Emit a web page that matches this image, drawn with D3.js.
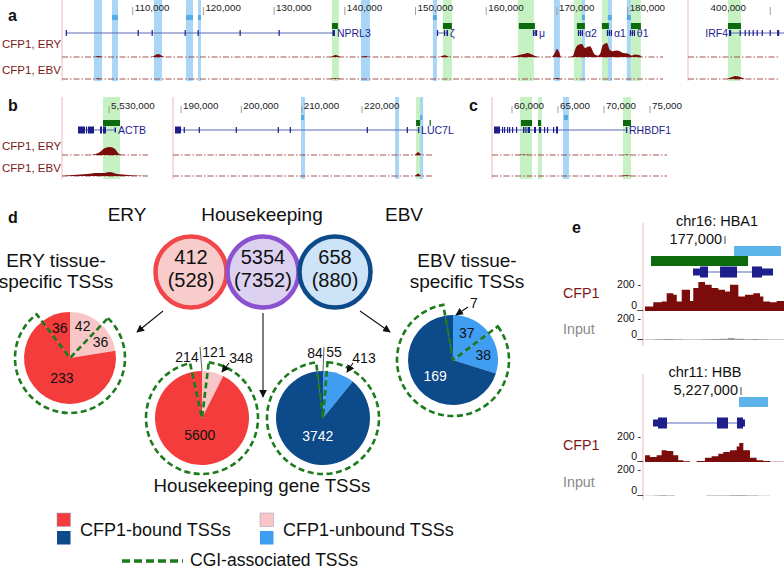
<!DOCTYPE html>
<html><head><meta charset="utf-8">
<script src="https://cdn.jsdelivr.net/npm/d3@7"></script>
<style>
body{margin:0;background:#fff;}
svg{display:block;font-family:"Liberation Sans",Arial,Helvetica,sans-serif;}
</style></head><body>
<svg id="c" width="784" height="569"></svg>
<script>
// ================= DATA =================
const trackLabels = ["CFP1, ERY", "CFP1, EBV"];

// ---- panel a ----
const aMainDomain = [100000, 185000];
const aIrf4Domain = [388000, 402000];
const aMainTicks = [110000,120000,130000,140000,150000,160000,170000,180000];
const aIrf4Ticks = [400000];
const aMainGreen = [[138178,139168],[153873,155146],[164478,166741],[172397,173952],[176356,177770],[180457,181871]];
const aMainBlue = [[104525,105656],[107070,107918],[113009,114140],[117534,118524],[119230,119655],[142279,143551],[152459,153025],[169569,170417],[173528,173952],[177204,177770],[179891,180457]];
const aMainBlueMarks = [[107070,107918],[117534,118524],[119230,119655],[152459,153025],[173528,173952],[177204,177770],[179891,180457]];
const aMainCGI = [[138178,139025],[153873,155146],[164620,166882],[172821,173952],[176356,177345],[180457,181871]];
const aMainGenes = [
  {name:"NPRL3", start:100566, end:138600, exons:[[100520,100640],[110690,110800],[112670,112780],[117340,117450],[119170,119280],[125110,125220],[130630,130740],[138250,138600]]},
  {name:"ζ", start:153025, end:154600, exons:[[153025,153140],[154020,154170],[154380,154600]]},
  {name:"μ", start:166600, end:167165, exons:[[166600,166740],[166840,166960],[167040,167165]]},
  {name:"α2", start:172962, end:173669, exons:[[172962,173110],[173240,173390],[173520,173669]]},
  {name:"α1", start:177063, end:177770, exons:[[177063,177210],[177340,177490],[177620,177770]]},
  {name:"θ1", start:180315, end:181022, exons:[[180315,180460],[180590,180740],[180870,181022]]}
];
const aIrf4Green = [[393833,395729]];
const aIrf4CGI = [[393833,395729]];
const aIrf4Genes = [{name:"IRF4", start:394124, end:402000, left:true,
  exons:[[393980,394300],[395530,395640],[396260,396360],[396840,396940],[397420,397530],[398010,398110],[398740,398840],[399900,400010],[401000,401300]]}];
const aMainEry = [[100000,0],[104400,0],[105100,6],[105800,0],[112600,0],[113600,18],[114500,0],
  [137900,0],[138700,12],[139500,0],[142200,0],[142900,6],[143600,0],[153300,0],[154100,10],[154900,0],
  [163300,0],[164300,8],[165300,18],[165900,24],[166500,14],[167300,0],[169200,0],[169700,24],[170000,47],[170300,30],[170600,0],
  [171800,0],[172255,6],[172538,40],[172962,70],[173528,76],[173952,53],[174376,60],[174659,63],[175366,14],[175790,8],[176073,16],
  [176497,71],[177063,83],[177487,41],[177911,34],[178477,38],[178901,34],[179325,24],[180032,20],[180598,8],[181022,14],[181729,10],[182012,0],[185000,0]];
const aMainEbv = [[100000,0],[104500,0],[105100,5],[105700,0],[137800,0],[138600,4],[139500,0],[169400,0],[170000,6],[170600,0],[185000,0]];
const aIrf4Ery = [[388000,0],[402000,0]];
const aIrf4Ebv = [[388000,0],[393600,0],[394300,10],[394900,18],[395600,12],[396400,0],[402000,0]];

// ---- panel b / c ----
const bActbDomain = [5525700, 5533550];
const bActbTicks = [5530000];
const bActbGreen = [[5529443,5530995]];
const bActbCGI = [[5529443,5530995]];
const bActbGenes = [{name:"ACTB", start:5527161, end:5530630,
  exons:[[5527161,5527800,7],[5527891,5527982,7],[5528074,5528622,7],[5529169,5529352,7],[5529443,5529717,7],[5530500,5530630,5]]}];
const bActbEry = [[5525700,0],[5528256,0],[5528713,5],[5529169,18],[5529626,41],[5530082,47],[5530539,35],[5530813,12],[5531269,0],[5533550,0]];
const bActbEbv = [[5525700,0],[5526100,3],[5526704,6],[5527983,12],[5528896,18],[5529443,17],[5530082,24],[5530539,15],[5531269,9],[5532182,3],[5533460,0]];

const bLucDomain = [188670, 231930];
const bLucTicks = [190000,200000,210000,220000];
const bLucGreen = [[228959,230120]];
const bLucBlue = [[209892,210556],[225478,226141],[229623,230120]];
const bLucBlueMarks = [[209892,210400],[229623,230000]];
const bLucCGI = [[228959,229623],[231200,231330]];
const bLucGenes = [{name:"LUC7L", start:189002, end:229457,
  exons:[[189002,189996,7],[190440,190560],[192930,193050],[199060,199180],[206020,206140],[208010,208130],[220780,220900],[227410,227530],[229300,229457]]}];
const bLucEry = [[188670,0],[228700,0],[229100,12],[229300,18],[229550,10],[229900,0],[231930,0]];
const bLucEbv = [[188670,0],[228700,0],[229100,10],[229300,14],[229550,8],[229900,0],[231930,0]];

const cRhbDomain = [57826, 76848];
const cRhbTicks = [60000,65000,70000,75000];
const cRhbGreen = [[60870,62174],[62826,63261],[72066,72935]];
const cRhbBlue = [[65544,66196]];
const cRhbBlueMarks = [[65650,66090]];
const cRhbCGI = [[60978,62174],[62826,63152],[72066,72935]];
const cRhbGenes = [{name:"RHBDF1", start:58043, end:72500,
  exons:[[58043,58696,7],[58913,58990],[59130,59210],[59457,59530],[59674,59750],[60000,60080],[60435,60510],
  [61196,61350],[61450,61580],[61700,61957],[62391,62609],[62935,63152],[63478,63560],[63804,63880],[64457,64540],[64783,65000,7],[72400,72500]]}];
const cRhbEry = [[57826,0],[60500,0],[61200,3],[61900,0],[72100,0],[72500,3],[72900,0],[76848,0]];
const cRhbEbv = [[57826,0],[71800,0],[72400,4],[73000,0],[76848,0]];

// ---- panel d ----
const dGroupTitles = ["ERY", "Housekeeping", "EBV"];
const dCircleCounts = ["412", "5354", "658"];
const dCircleTotals = ["(528)", "(7352)", "(880)"];
const dPieTitles = [["ERY tissue-", "specific TSSs"], ["EBV tissue-", "specific TSSs"]];
const dBottomTitle = "Housekeeping gene TSSs";
// slice order (clockwise from 12 o'clock): unbound non-CGI, unbound CGI, bound CGI, bound non-CGI
const sliceBound = [false, false, true, true];
const sliceCGI = [false, true, true, false];
const eryTissueVals = [42, 36, 233, 36];
const hkEryVals = [121, 348, 5600, 214];
const hkEbvVals = [55, 413, 3742, 84];
const ebvTissueVals = [37, 38, 169, 7];
const legendLabels = ["CFP1-bound TSSs", "CFP1-unbound TSSs", "CGI-associated TSSs"];

// ---- panel e ----
const eHbaTitle = "chr16: HBA1";
const eHbaDomain = [176148, 177628];
const eHbaTicks = [177000];
const eHbaBlue = [[177096,177596]];
const eHbaCGI = [[176212,177245]];
const eHbaGene = {start:176659, end:177511, exons:[[176659,176734,"utr"],[176734,176819,"cds"],[176947,177128,"cds"],[177287,177394,"cds"],[177394,177511,"utr"]]};
const eHbaCfp1 = [[176148,33],[176236,65],[176326,70],[176379,132],[176450,120],[176486,70],[176539,158],[176609,158],[176627,75],
  [176662,170],[176716,215],[176787,195],[176858,170],[176929,158],[177000,145],[177053,195],[177106,195],[177142,108],[177213,120],
  [177301,132],[177373,108],[177408,70],[177479,65],[177550,75],[177628,58]];
const eHbaInput = [[176148,4],[176250,6],[176350,9],[176450,7],[176550,5],[176650,4],[176750,7],[176850,9],[176950,12],[177030,18],[177100,12],[177200,7],[177280,10],[177350,6],[177450,4],[177628,3]];
const eHbbTitle = "chr11: HBB";
const eHbbDomain = [5225330, 5227748];
const eHbbTicks = [5227000];
const eHbbBlue = [[5226965,5227469]];
const eHbbGene = {start:5225469, end:5227069, exons:[[5225469,5225556,"utr"],[5225556,5225713,"cds"],[5226582,5226774,"cds"],[5226930,5227035,"cds"],[5227035,5227069,"utr"]]};
const eHbbCfp1 = [[5225330,51],[5225417,38],[5225533,51],[5225620,90],[5225707,85],[5225822,51],[5225909,13],[5225996,5],[5226113,0],
  [5226229,8],[5226373,33],[5226490,44],[5226605,64],[5226692,77],[5226808,90],[5226925,120],[5226970,146],[5227040,90],[5227156,33],
  [5227272,13],[5227388,8],[5227504,2],[5227748,1]];
const eHbbInput = [[5225330,2],[5225500,4],[5225600,5],[5225700,3],[5225850,0],[5226350,0],[5226400,3],[5226600,4],[5226800,6],[5226950,5],[5227100,4],[5227300,2],[5227500,0],[5227748,0]];
const eTrackLabels = ["CFP1", "Input"];
const eAxisLabels = ["200 -", "0_"];

// ================= DRAWING =================
const C = {green:"#c6f2c3", blue:"#a9d5f6", blueMark:"#57ace6", cgi:"#0d6b0d", gene:"#1d1d8c", geneLine:"#5a6bbb",
  signal:"#7a0c0c", border:"#f1c4c4", base:"#8e2a2a", track:"#7d1818",
  red:"#f43c3c", pink:"#f8c6c6", dblue:"#0c4a8a", lblue:"#3f9ef2", dash:"#1d7a1d"};
const svg = d3.select("#c");
const fmt = d3.format(",");
const defs = svg.append("defs");
defs.append("marker").attr("id","arr").attr("viewBox","0 0 10 10").attr("refX",9).attr("refY",5)
  .attr("markerWidth",7).attr("markerHeight",7).attr("orient","auto")
  .append("path").attr("d","M0,0L10,5L0,10z").attr("fill","#111");

function browser(p){
  const x = d3.scaleLinear().domain(p.domain).range(p.range);
  const g = svg.append("g");
  const w = d => Math.max(1.2, x(d[1]) - x(d[0]));
  const Y = p.y;
  g.selectAll(null).data(p.green||[]).join("rect").attr("x",d=>x(d[0])).attr("width",w)
    .attr("y",Y.bandTop).attr("height",Y.bandBot-Y.bandTop).attr("fill",C.green);
  g.selectAll(null).data(p.blue||[]).join("rect").attr("x",d=>x(d[0])).attr("width",w)
    .attr("y",Y.bandTop).attr("height",Y.bandBot-Y.bandTop).attr("fill",C.blue);
  g.append("line").attr("x1",p.range[0]).attr("x2",p.range[0]).attr("y1",Y.bandTop).attr("y2",Y.bandBot)
    .attr("stroke",C.border).attr("stroke-width",1.2);
  const tk = g.selectAll(null).data(p.ticks).join("g").attr("transform",d=>`translate(${x(d)},0)`);
  tk.append("line").attr("y1",Y.tickTop).attr("y2",Y.tickBot).attr("stroke","#888").attr("stroke-width",0.8);
  tk.append("text").attr("x",p.tickDx ?? 2).attr("y",Y.tickLabel).attr("text-anchor",p.tickAnchor||"start")
    .attr("font-size",9.8).attr("fill","#222").text(d=>fmt(d));
  g.selectAll(null).data(p.marks||[]).join("rect").attr("x",d=>x(d[0])).attr("width",w)
    .attr("y",Y.mark).attr("height",5).attr("fill",C.blueMark);
  g.selectAll(null).data(p.cgi||[]).join("rect").attr("x",d=>x(d[0])).attr("width",w)
    .attr("y",Y.cgi).attr("height",6).attr("fill",C.cgi);
  (p.genes||[]).forEach(gn=>{
    g.append("line").attr("x1",x(gn.start)).attr("x2",Math.min(p.range[1],x(gn.end))).attr("y1",Y.gene).attr("y2",Y.gene)
      .attr("stroke",C.geneLine).attr("stroke-width",1);
    g.selectAll(null).data(gn.exons).join("rect").attr("x",d=>x(d[0])).attr("width",w)
      .attr("y",d=>Y.gene-(d[2]||6)/2).attr("height",d=>d[2]||6).attr("fill",C.gene);
    g.append("text").attr("x",gn.left ? x(gn.start)-2 : x(gn.end)+2).attr("y",Y.gene+4)
      .attr("text-anchor",gn.left?"end":"start").attr("font-size",10.5).attr("fill",C.gene).text(gn.name);
  });
  p.tracks.forEach((t,i)=>{
    const base = Y.base[i];
    const ys = d3.scaleLinear().domain([0,100]).range([base, base-17]);
    g.append("line").attr("x1",p.range[0]).attr("x2",p.baseEnd||p.range[1]).attr("y1",base).attr("y2",base)
      .attr("stroke",C.base).attr("stroke-width",0.8).attr("stroke-dasharray","6,2,1.5,2");
    g.append("path").datum(t).attr("fill",C.signal)
      .attr("d",d3.area().x(d=>x(d[0])).y0(base).y1(d=>ys(d[1])).curve(d3.curveMonotoneX));
  });
}

// ---- panel a ----
const yA = {bandTop:0, bandBot:81, tickTop:7, tickBot:15, tickLabel:11, mark:15, cgi:23, gene:33, base:[57,79]};
browser({domain:aMainDomain, range:[62,663], green:aMainGreen, blue:aMainBlue, marks:aMainBlueMarks, cgi:aMainCGI,
  genes:aMainGenes, ticks:aMainTicks, tracks:[aMainEry,aMainEbv], y:yA});
browser({domain:aIrf4Domain, range:[688,784], baseEnd:778, green:aIrf4Green, cgi:aIrf4CGI, genes:aIrf4Genes,
  ticks:aIrf4Ticks, tickAnchor:"middle", tickDx:-42, tracks:[aIrf4Ery,aIrf4Ebv], y:yA});

// ---- panel b/c ----
const yB = {bandTop:97, bandBot:179, tickTop:106, tickBot:113, tickLabel:109, mark:115, cgi:120, gene:130, base:[155,176]};
browser({domain:bActbDomain, range:[62,148], green:bActbGreen, cgi:bActbCGI, genes:bActbGenes, ticks:bActbTicks, tracks:[bActbEry,bActbEbv], y:yB});
browser({domain:bLucDomain, range:[173,434], green:bLucGreen, blue:bLucBlue, marks:bLucBlueMarks, cgi:bLucCGI, genes:bLucGenes, ticks:bLucTicks, tracks:[bLucEry,bLucEbv], y:yB});
browser({domain:cRhbDomain, range:[492,667], green:cRhbGreen, blue:cRhbBlue, marks:cRhbBlueMarks, cgi:cRhbCGI, genes:cRhbGenes, ticks:cRhbTicks, tracks:[cRhbEry,cRhbEbv], y:yB});

// track labels
[[48,74],[150,172]].forEach(ys=>{
  ys.forEach((yy,i)=>svg.append("text").attr("x",2).attr("y",yy).attr("font-size",11.5).attr("fill",C.track).text(trackLabels[i]));
});
// panel letters
[["a",8,21],["b",8,111],["c",469,111],["d",8,223],["e",572,233]].forEach(([t,px,py])=>
  svg.append("text").attr("x",px).attr("y",py).attr("font-size",16).attr("font-weight","bold").attr("fill","#111").text(t));

// ---- panel d ----
const dg = svg.append("g").attr("fill","#111");
const titleX = [127, 262, 404];
dGroupTitles.forEach((t,i)=>dg.append("text").attr("x",titleX[i]).attr("y",221).attr("text-anchor","middle").attr("font-size",19).text(t));
const circ = [{cx:191,stroke:"#f2474a",fill:"#f9cccc"},{cx:263,stroke:"#8b52cf",fill:"#ddd1f2"},{cx:335,stroke:"#0c4a8a",fill:"#cde3f8"}];
circ.forEach((c,i)=>{
  dg.append("circle").attr("cx",c.cx).attr("cy",272).attr("r",35.5).attr("fill",c.fill).attr("stroke",c.stroke).attr("stroke-width",4.5);
  dg.append("text").attr("x",c.cx).attr("y",264).attr("text-anchor","middle").attr("font-size",20).text(dCircleCounts[i]);
  dg.append("text").attr("x",c.cx).attr("y",287).attr("text-anchor","middle").attr("font-size",20).text(dCircleTotals[i]);
});
// pie titles
[[56,dPieTitles[0]],[467,dPieTitles[1]]].forEach(([px,lines])=>{
  lines.forEach((l,j)=>dg.append("text").attr("x",px).attr("y",267+j*20.5).attr("text-anchor","middle").attr("font-size",19).text(l));
});
dg.append("text").attr("x",262).attr("y",492).attr("text-anchor","middle").attr("font-size",18.7).text(dBottomTitle);

// arrows from circles to pies
[[163,311,137,332],[263,313,263,397],[360,311,390,332]].forEach(a=>
  dg.append("line").attr("x1",a[0]).attr("y1",a[1]).attr("x2",a[2]).attr("y2",a[3]).attr("stroke","#111").attr("stroke-width",1.1).attr("marker-end","url(#arr)"));

const pies = [
  {vals:eryTissueVals, cx:70, cy:358, r:46, ring:55, scheme:"red", lab:[["in",0.74],["in",0.75],["in",0.47],["in",0.7]]},
  {vals:hkEryVals, cx:202, cy:418, r:47, ring:56, scheme:"red", lab:[["out",12,-61],["out",39,-55],["in",0.37],["out",-15,-56]],
    arrow:[27,-55,20,-46], sep:[-2,-71,0,-47]},
  {vals:hkEbvVals, cx:323, cy:418, r:47, ring:56, scheme:"blue", lab:[["out",11,-61],["out",41,-55],["in",0.4],["out",-8,-60]],
    arrow:[30,-55,24,-46], sep:[1,-71,0,-47]},
  {vals:ebvTissueVals, cx:453, cy:360, r:45, ring:56, scheme:"blue", lab:[["in",0.68],["in",0.68],["in",0.53],["out",21,-52]],
    arrow:[15,-53,3,-45]}
];
const pieGen = d3.pie().sort(null).value(d=>d);
pies.forEach(P=>{
  const g = dg.append("g").attr("transform",`translate(${P.cx},${P.cy})`);
  const arcs = pieGen(P.vals);
  const arc = d3.arc().innerRadius(0).outerRadius(P.r);
  const colB = P.scheme==="red" ? C.red : C.dblue;
  const colU = P.scheme==="red" ? C.pink : C.lblue;
  g.selectAll(null).data(arcs).join("path").attr("d",arc).attr("fill",(d,i)=>sliceBound[i]?colB:colU);
  // CGI outline
  const cgiIdx = sliceCGI.map((v,i)=>v?i:-1).filter(i=>i>=0);
  const sa = arcs[cgiIdx[0]].startAngle, ea = arcs[cgiIdx[cgiIdx.length-1]].endAngle;
  g.append("path").attr("d",d3.arc()({innerRadius:0,outerRadius:P.ring,startAngle:sa,endAngle:ea}))
    .attr("fill","none").attr("stroke",C.dash).attr("stroke-width",2.6).attr("stroke-dasharray","6,3.5");
  // labels
  arcs.forEach((a,i)=>{
    const L = P.lab[i];
    let tx, ty, dy;
    if(L[0]==="in"){
      const c = d3.arc().innerRadius(0).outerRadius(2*P.r*L[1]).centroid(a);
      tx=c[0]; ty=c[1]; dy="0.36em";
    } else { tx=L[1]; ty=L[2]; dy="0"; }
    const white = P.scheme==="blue" && sliceBound[i] && L[0]==="in";
    g.append("text").attr("x",tx).attr("y",ty).attr("dy",dy).attr("text-anchor","middle").attr("font-size",14)
      .attr("fill",white?"#fff":"#111").text(P.vals[i]);
  });
  if(P.arrow) g.append("line").attr("x1",P.arrow[0]).attr("y1",P.arrow[1]).attr("x2",P.arrow[2]).attr("y2",P.arrow[3])
    .attr("stroke","#111").attr("stroke-width",1.1).attr("marker-end","url(#arr)");
  if(P.sep) g.append("line").attr("x1",P.sep[0]).attr("y1",P.sep[1]).attr("x2",P.sep[2]).attr("y2",P.sep[3])
    .attr("stroke","#333").attr("stroke-width",0.8);
});

// legend
const lg = svg.append("g");
[[57,C.red,C.dblue,legendLabels[0]],[260,C.pink,C.lblue,legendLabels[1]]].forEach(([lx,c1,c2,t])=>{
  lg.append("rect").attr("x",lx).attr("y",513).attr("width",13.5).attr("height",13.5).attr("fill",c1).attr("stroke","#a9a4c4").attr("stroke-width",0.6);
  lg.append("rect").attr("x",lx).attr("y",531).attr("width",13.5).attr("height",13.5).attr("fill",c2);
  lg.append("text").attr("x",lx+23).attr("y",536).attr("font-size",18).attr("fill","#111").text(t);
});
lg.append("line").attr("x1",122).attr("x2",183).attr("y1",561).attr("y2",561).attr("stroke",C.dash).attr("stroke-width",3.5).attr("stroke-dasharray","8,4");
lg.append("text").attr("x",190).attr("y",566).attr("font-size",17.5).attr("fill","#111").text(legendLabels[2]);

// ---- panel e ----
function ePanel(p){
  const x = d3.scaleLinear().domain(p.domain).range([645,784]);
  const g = svg.append("g");
  const Y = p.y;
  g.append("line").attr("x1",643).attr("x2",643).attr("y1",Y.top).attr("y2",Y.bot).attr("stroke",C.border).attr("stroke-width",1.2);
  g.append("text").attr("x",p.titleX).attr("y",Y.title).attr("text-anchor","middle").attr("font-size",14.5).attr("fill","#111").text(p.title);
  p.ticks.forEach(t=>{
    g.append("line").attr("x1",x(t)).attr("x2",x(t)).attr("y1",Y.tick-8).attr("y2",Y.tick).attr("stroke","#333").attr("stroke-width",0.9);
    g.append("text").attr("x",x(t)-3).attr("y",Y.tick).attr("text-anchor","end").attr("font-size",14.5).attr("fill","#111").text(fmt(t));
  });
  const w = d=>x(d[1])-x(d[0]);
  g.selectAll(null).data(p.blue).join("rect").attr("x",d=>x(d[0])).attr("width",w).attr("y",Y.blue).attr("height",10).attr("fill","#5db4ea");
  g.selectAll(null).data(p.cgi||[]).join("rect").attr("x",d=>x(d[0])).attr("width",w).attr("y",Y.cgi).attr("height",10).attr("fill",C.cgi);
  g.append("line").attr("x1",x(p.gene.start)).attr("x2",x(p.gene.end)).attr("y1",Y.gene).attr("y2",Y.gene).attr("stroke",C.geneLine).attr("stroke-width",1.2);
  g.selectAll(null).data(p.gene.exons).join("rect").attr("x",d=>x(d[0])).attr("width",w)
    .attr("y",d=>Y.gene-(d[2]==="cds"?5.5:3.5)).attr("height",d=>d[2]==="cds"?11:7).attr("fill",C.gene);
  [[p.cfp1,Y.c0,Y.c200,C.signal],[p.input,Y.i0,Y.i200,"#9a9a9a"]].forEach(([data,b,t,col],i)=>{
    const ys = d3.scaleLinear().domain([0,200]).range([b,t]);
    g.append("path").datum(data).attr("fill",col)
      .attr("d",d3.area().x(d=>x(d[0])).y0(b).y1(d=>ys(d[1])).curve(d3.curveStepAfter));
    g.append("text").attr("x",641).attr("y",t+4).attr("text-anchor","end").attr("font-size",10.5).attr("fill","#111").text(eAxisLabels[0]);
    g.append("text").attr("x",643).attr("y",b-2).attr("text-anchor","end").attr("font-size",10.5).attr("fill","#111").text(eAxisLabels[1]);
    g.append("text").attr("x",563).attr("y",i===0?Y.cLab:Y.iLab).attr("font-size",14.3).attr("fill",i===0?C.track:"#8a8a8a").text(eTrackLabels[i]);
  });
}
ePanel({domain:eHbaDomain, title:eHbaTitle, titleX:717, ticks:eHbaTicks, blue:eHbaBlue, cgi:eHbaCGI, gene:eHbaGene, cfp1:eHbaCfp1, input:eHbaInput,
  y:{top:223, bot:346, title:226, tick:244, blue:246, cgi:256, gene:272, c0:311, c200:284, i0:340, i200:318, cLab:298, iLab:334}});
ePanel({domain:eHbbDomain, title:eHbbTitle, titleX:705, ticks:eHbbTicks, blue:eHbbBlue, gene:eHbbGene, cfp1:eHbbCfp1, input:eHbbInput,
  y:{top:374, bot:500, title:377, tick:395, blue:397, gene:423, c0:462, c200:436, i0:496, i200:469, cLab:450, iLab:487}});
</script>
</body></html>
